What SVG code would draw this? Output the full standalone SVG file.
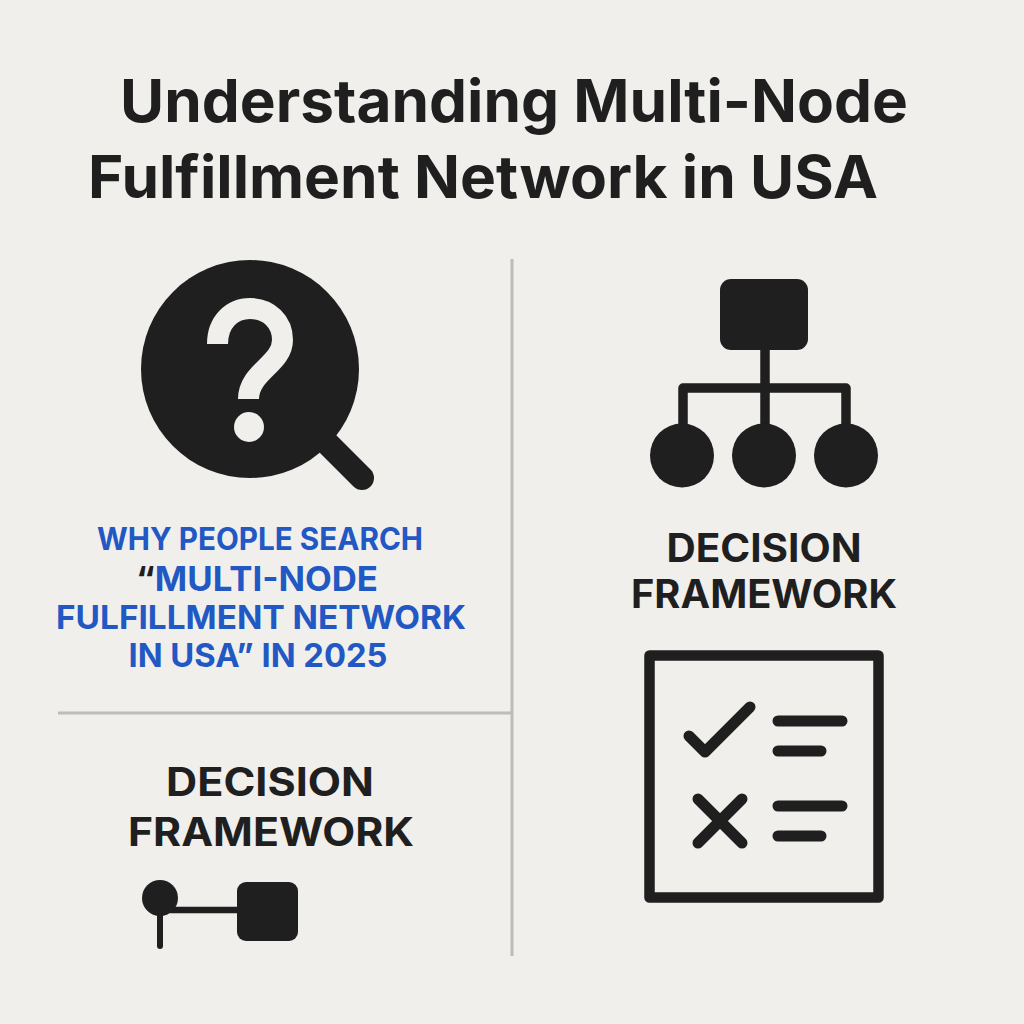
<svg xmlns="http://www.w3.org/2000/svg" width="1024" height="1024" viewBox="0 0 1024 1024">
<style>
.t{font-family:"Inter","Liberation Sans",sans-serif;font-weight:700;fill:#1f1f1f;text-anchor:middle}
.b{font-family:"Inter","Liberation Sans",sans-serif;font-weight:700;fill:#2158c4;text-anchor:middle}
.h{font-size:59px}
.d{font-size:39px}
.i{fill:#1f1f1f}
.s{fill:none;stroke:#1f1f1f;stroke-linecap:round;stroke-linejoin:round}
</style>
<rect width="1024" height="1024" fill="#f1efeb"/>
<g id="title"><text class="t h" x="514" y="122" textLength="788" lengthAdjust="spacingAndGlyphs">Understanding Multi-Node</text>
<text class="t h" x="483" y="198" textLength="790" lengthAdjust="spacingAndGlyphs">Fulfillment Network in USA</text></g>
<g id="dividers" stroke="#bdbcb8" stroke-width="3"><line x1="512" y1="259" x2="512" y2="956"/><line x1="58" y1="713" x2="512" y2="713"/></g>
<g id="search-icon">
<circle class="i" cx="250" cy="369" r="109"/>
<line x1="325" y1="441" x2="362" y2="478" class="s" stroke-width="24"/>
<path d="M217.5 344C217.5 322 232 308.5 250 308.5C269 308.5 282.5 322 282.5 340C282.5 364 248.5 372 248.5 399" fill="none" stroke="#f1efeb" stroke-width="21"/>
<circle cx="249" cy="427" r="15" fill="#f1efeb"/>
</g>
<g id="why-label"><text class="b" x="260" y="550" font-size="31" textLength="326" lengthAdjust="spacingAndGlyphs">WHY PEOPLE SEARCH</text>
<text class="b" x="257" y="591" font-size="34" textLength="242" lengthAdjust="spacingAndGlyphs"><tspan fill="#1f1f1f">“</tspan>MULTI-NODE</text>
<text class="b" x="261" y="629" font-size="33" textLength="410" lengthAdjust="spacingAndGlyphs">FULFILLMENT NETWORK</text>
<text class="b" x="258" y="667" font-size="33" textLength="259" lengthAdjust="spacingAndGlyphs">IN USA” IN 2025</text></g>
<g id="hierarchy-icon">
<rect class="i" x="720" y="279" width="88" height="71" rx="11"/>
<path d="M765 350V425M683 425V388H846V425" class="s" style="stroke-linecap:butt" stroke-width="9.5"/>
<circle class="i" cx="682" cy="455.5" r="32"/><circle class="i" cx="764" cy="455.5" r="32"/><circle class="i" cx="846" cy="455.5" r="32"/>
</g>
<g id="framework-right"><text class="t d" x="764" y="562" textLength="195" lengthAdjust="spacingAndGlyphs">DECISION</text>
<text class="t d" x="764" y="608" textLength="266" lengthAdjust="spacingAndGlyphs">FRAMEWORK</text></g>
<g id="framework-left"><text class="t d" x="270" y="796" textLength="208" lengthAdjust="spacingAndGlyphs">DECISION</text>
<text class="t d" x="271" y="846" textLength="286" lengthAdjust="spacingAndGlyphs">FRAMEWORK</text></g>
<g id="node-icon">
<circle class="i" cx="160" cy="898" r="18"/>
<line x1="160" y1="898" x2="160" y2="946" class="s" stroke-width="6"/>
<line x1="170" y1="910" x2="245" y2="910" stroke="#1f1f1f" stroke-width="6.5"/>
<rect class="i" x="237" y="882" width="61" height="59" rx="9"/>
</g>
<g id="checklist-icon">
<rect x="649.5" y="655.5" width="229" height="242" class="s" stroke-width="10.5"/>
<path d="M689 736L705 752L750 707" class="s" stroke-width="11"/>
<path d="M698 799L742 843M742 799L698 843" class="s" stroke-width="11"/>
<path d="M778 721H842M778 751H821M778 806H842M778 836H821" class="s" stroke-width="11"/>
</g>
</svg>
